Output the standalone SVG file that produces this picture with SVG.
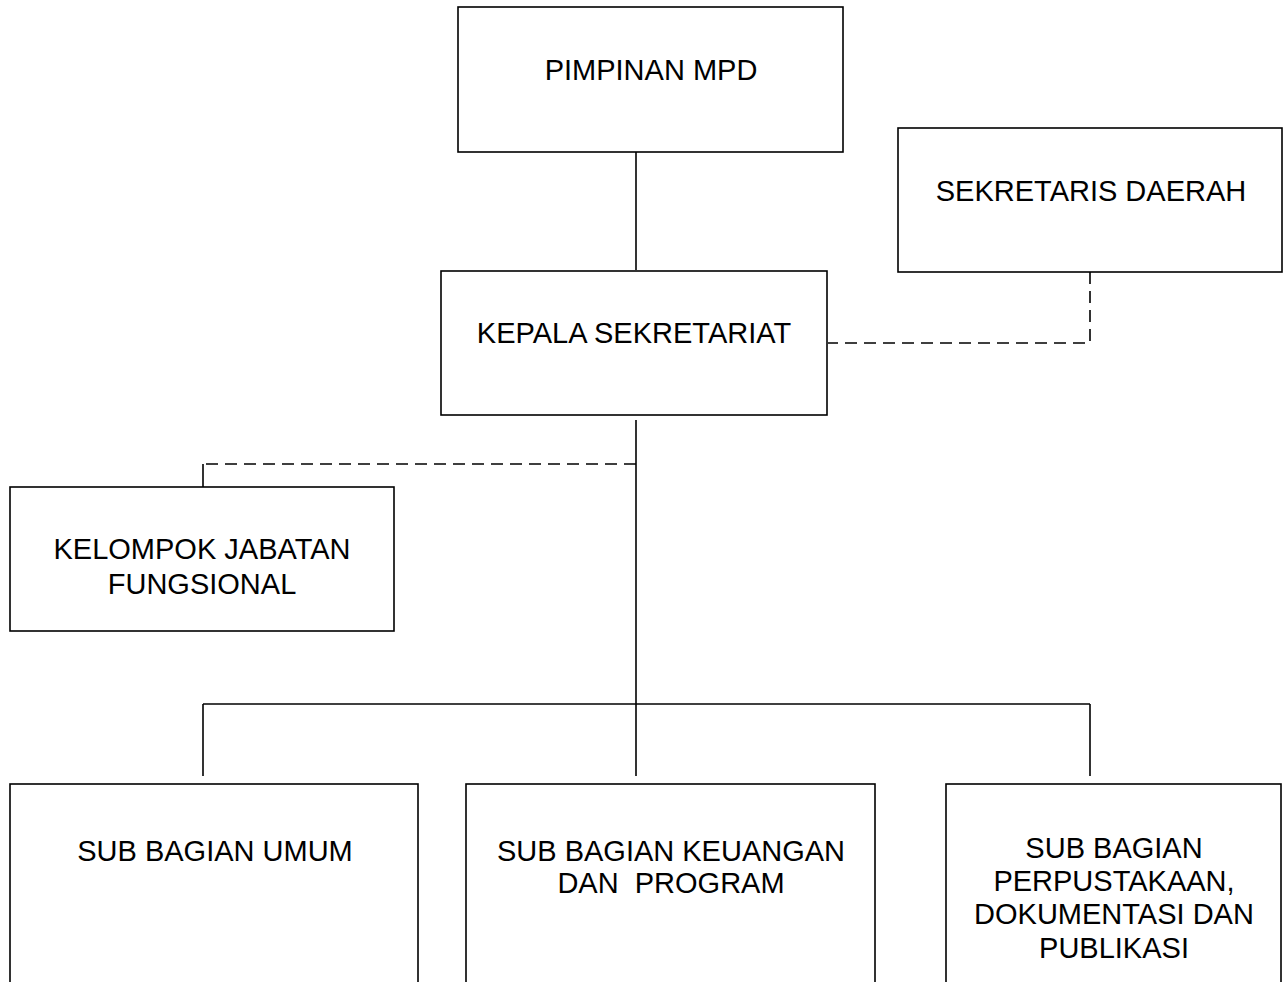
<svg xmlns="http://www.w3.org/2000/svg" width="1284" height="982" viewBox="0 0 1284 982">
<style>
.box{fill:#fff;stroke:#000;stroke-width:1.6}
.t{font-family:"Liberation Sans",Arial,sans-serif;font-size:29px;fill:#000;text-anchor:middle}
.ln{fill:none;stroke:#000;stroke-width:1.6}
.ds{fill:none;stroke:#000;stroke-width:1.6;stroke-dasharray:12 7}
</style>
<rect width="1284" height="982" fill="#fff"/>
<g id="connectors">
<line class="ln" x1="636" y1="152" x2="636" y2="270"/>
<polyline class="ds" points="1090,272 1090,343 828,343"/>
<line class="ln" x1="636" y1="420" x2="636" y2="776"/>
<line class="ds" x1="636" y1="464" x2="203" y2="464"/>
<line class="ln" x1="203" y1="464" x2="203" y2="496"/>
<line class="ln" x1="203" y1="704" x2="1090" y2="704"/>
<line class="ln" x1="203" y1="704" x2="203" y2="776"/>
<line class="ln" x1="1090" y1="704" x2="1090" y2="776"/>
</g>
<g id="pimpinan">
<rect class="box" x="458" y="7" width="385" height="145"/>
<text class="t" x="651" y="80">PIMPINAN MPD</text>
</g>
<g id="sekda">
<rect class="box" x="898" y="128" width="384" height="144"/>
<text class="t" x="1091" y="201">SEKRETARIS DAERAH</text>
</g>
<g id="kepala">
<rect class="box" x="441" y="271" width="386" height="144"/>
<text class="t" x="634" y="343">KEPALA SEKRETARIAT</text>
</g>
<g id="kelompok">
<rect class="box" x="10" y="487" width="384" height="144"/>
<text class="t" x="202" y="559">KELOMPOK JABATAN</text>
<text class="t" x="202" y="594">FUNGSIONAL</text>
</g>
<g id="umum">
<rect class="box" x="10" y="784" width="408" height="210"/>
<text class="t" x="215" y="861">SUB BAGIAN UMUM</text>
</g>
<g id="keuangan">
<rect class="box" x="466" y="784" width="409" height="210"/>
<text class="t" x="671" y="861">SUB BAGIAN KEUANGAN</text>
<text class="t" x="671" y="893" xml:space="preserve">DAN  PROGRAM</text>
</g>
<g id="perpustakaan">
<rect class="box" x="946" y="784" width="335" height="210"/>
<text class="t" x="1114" y="858">SUB BAGIAN</text>
<text class="t" x="1114" y="891">PERPUSTAKAAN,</text>
<text class="t" x="1114" y="924">DOKUMENTASI DAN</text>
<text class="t" x="1114" y="958">PUBLIKASI</text>
</g>
</svg>
